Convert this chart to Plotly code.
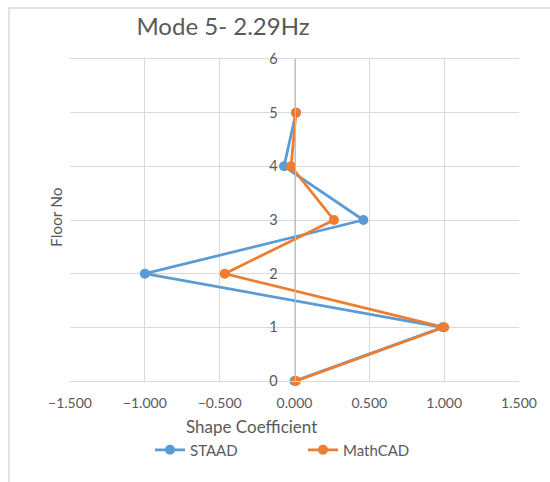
import plotly.graph_objects as go

floors = [0, 1, 2, 3, 4, 5]
staad = [0.0, 0.99, -1.0, 0.46, -0.07, 0.01]
mathcad = [0.01, 1.0, -0.466, 0.263, -0.023, 0.01]
x_ticks = [-1.5, -1.0, -0.5, 0.0, 0.5, 1.0, 1.5]
y_ticks = [0, 1, 2, 3, 4, 5, 6]

FONT = "Lato, Open Sans, sans-serif"
TXT = "#595959"
GRID = "#d9d9d9"

W, H = 550, 482
L, R, T, B = 70, 31, 59, 101
pw, ph = W - L - R, H - T - B

def px_x(px):
    return (px - L) / pw

def px_y(py):
    return (H - B - py) / ph

fig = go.Figure()
fig.add_trace(go.Scatter(x=staad, y=floors, mode="lines+markers", name="STAAD",
                         line=dict(color="#5B9BD5", width=2.75),
                         marker=dict(color="#5B9BD5", size=10), cliponaxis=False))
fig.add_trace(go.Scatter(x=mathcad, y=floors, mode="lines+markers", name="MathCAD",
                         line=dict(color="#ED7D31", width=2.75),
                         marker=dict(color="#ED7D31", size=10), cliponaxis=False))

fig.update_layout(
    width=W, height=H,
    margin=dict(l=L, r=R, t=T, b=B),
    paper_bgcolor="white", plot_bgcolor="white",
    font=dict(family=FONT, color=TXT, size=14),
    title=dict(text="Mode 5- 2.29Hz", x=px_x(223), xref="paper", xanchor="center",
               y=1 - 27 / H, yref="container", yanchor="middle",
               font=dict(size=24, color=TXT, family=FONT)),
    xaxis=dict(range=[-1.5, 1.5], tickvals=x_ticks, tickformat=".3f",
               showgrid=True, gridcolor=GRID, gridwidth=1, zeroline=False,
               showline=True, linecolor=GRID, mirror=True, ticks="",
               tickfont=dict(size=14, color=TXT), ticklabelstandoff=9),
    yaxis=dict(range=[0, 6], tickvals=y_ticks, showgrid=True, gridcolor=GRID,
               zeroline=False, showline=True, linecolor="#bfbfbf",
               anchor="free", position=0.5, ticks="",
               tickfont=dict(size=14.5, color=TXT), ticklabelstandoff=14),
    showlegend=True,
    legend=dict(orientation="h", x=px_x(150), xanchor="left", y=px_y(450), yanchor="middle",
                font=dict(size=15, color=TXT), entrywidth=108, entrywidthmode="pixels",
                bgcolor="rgba(0,0,0,0)"),
    annotations=[
        dict(text="Shape Coefficient", x=px_x(251), y=px_y(426), xref="paper", yref="paper",
             showarrow=False, font=dict(size=17, color=TXT), xanchor="center", yanchor="middle"),
        dict(text="Floor No", x=px_x(56), y=px_y(217), xref="paper", yref="paper",
             showarrow=False, textangle=-90, font=dict(size=15.5, color=TXT),
             xanchor="center", yanchor="middle"),
    ],
    shapes=[
        dict(type="rect", xref="paper", yref="paper",
             x0=px_x(9), x1=px_x(600), y0=px_y(560), y1=px_y(8),
             line=dict(color="#d9d9d9", width=1.5), layer="below"),
    ],
)

fig.write_html("out.html")
